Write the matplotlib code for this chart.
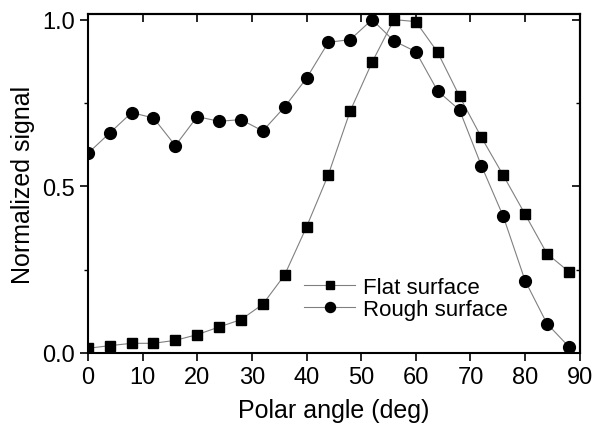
import matplotlib
matplotlib.use("Agg")
import matplotlib.pyplot as plt
import numpy as np

plt.rcParams['font.family'] = ['Liberation Sans', 'DejaVu Sans']

angle = [0, 4, 8, 12, 16, 20, 24, 28, 32, 36, 40, 44,
         48, 52, 56, 60, 64, 68, 72, 76, 80, 84, 88]
flat = [0.014, 0.022, 0.029, 0.029, 0.038, 0.055, 0.078, 0.100, 0.146, 0.234, 0.378, 0.535,
        0.726, 0.872, 1.000, 0.994, 0.902, 0.770, 0.647, 0.533, 0.416, 0.298, 0.244]
rough = [0.599, 0.660, 0.721, 0.705, 0.622, 0.709, 0.695, 0.700, 0.666, 0.738, 0.824, 0.932,
         0.940, 1.000, 0.936, 0.904, 0.786, 0.729, 0.562, 0.410, 0.217, 0.088, 0.019]

fig = plt.figure(figsize=(5.94, 4.27), dpi=100)
ax = fig.add_axes([0.148, 0.171, 0.828, 0.794])

line_kw = dict(color='#808080', lw=0.8, mfc='black', mec='black')
ax.plot(angle, flat, marker='s', ms=7.5, label='Flat surface', **line_kw)
ax.plot(angle, rough, marker='o', ms=8.5, label='Rough surface', **line_kw)

ax.set_xlim(0, 90)
ax.set_ylim(0, 1.017)
ax.set_xticks(np.arange(0, 91, 10))
ax.set_yticks([0, 0.5, 1.0])
ax.set_yticks([0.25, 0.75], minor=True)
ax.set_yticklabels(['0.0', '0.5', '1.0'])

for s in ax.spines.values():
    s.set_linewidth(1.5)

ax.tick_params(which='major', direction='out', length=5.5, width=1.2, labelsize=17, pad=4)
ax.tick_params(axis='x', which='major', pad=4)
ax.tick_params(which='minor', direction='out', length=3.2, width=1.0)

top = ax.secondary_xaxis('top')
top.set_xticks(np.arange(0, 91, 10))
top.tick_params(direction='in', length=5.5, width=1.2, labeltop=False)
top.spines['top'].set_linewidth(1.5)
right = ax.secondary_yaxis('right')
right.set_yticks([0, 0.5, 1.0])
right.set_yticks([0.25, 0.75], minor=True)
right.tick_params(which='major', direction='in', length=5.5, width=1.2, labelright=False)
right.tick_params(which='minor', direction='in', length=3.2, width=1.0, labelright=False)
right.spines['right'].set_linewidth(1.5)

ax.set_xlabel('Polar angle (deg)', fontsize=18, labelpad=7)
ax.set_ylabel('Normalized signal', fontsize=18, labelpad=5)

ax.legend(loc='center left', bbox_to_anchor=(0.44, 0.162), frameon=False, fontsize=16,
          markerscale=0.85, handlelength=2.3, handletextpad=0.35, labelspacing=0.05,
          borderpad=0, borderaxespad=0)

fig.savefig('out.png', dpi=100)
